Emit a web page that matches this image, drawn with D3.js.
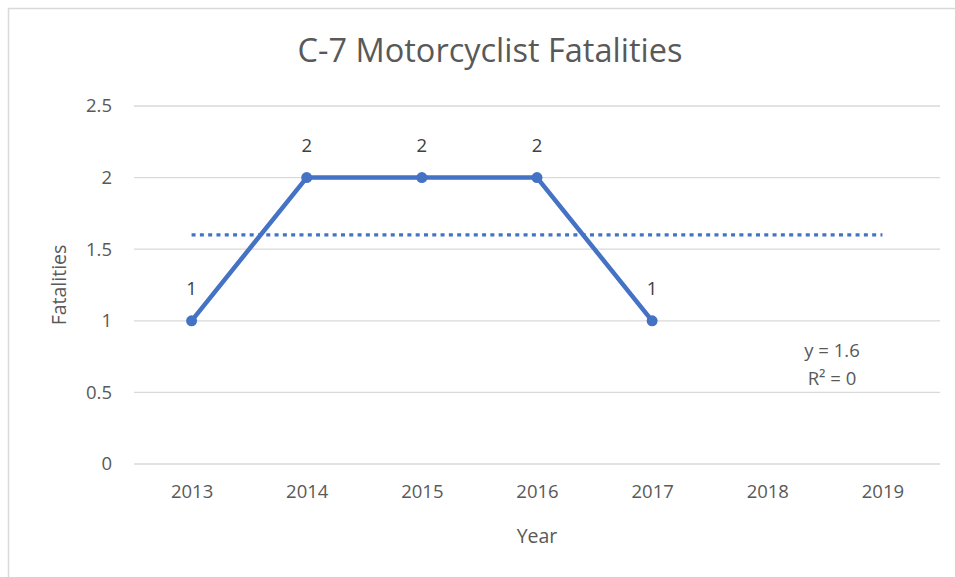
<!DOCTYPE html>
<html><head><meta charset="utf-8">
<script src="https://cdn.jsdelivr.net/npm/d3@7"></script>
<style>body{margin:0;background:#fff}svg{display:block}</style>
</head><body>
<svg id="chart" width="955" height="577"></svg>
<script>
const title = "C-7 Motorcyclist Fatalities";
const years = ["2013","2014","2015","2016","2017","2018","2019"];
const fatalities = [1,2,2,2,1];
const yTicks = [0,0.5,1,1.5,2,2.5];
const trendValue = 1.6;
const trendLabel = ["y = 1.6","R² = 0"];
const xTitle = "Year", yTitle = "Fatalities";

const font = "'Open Sans', sans-serif";
const svg = d3.select("#chart");
svg.append("rect").attr("x",8.5).attr("y",8.5).attr("width",1000).attr("height",1000)
  .attr("fill","#fff").attr("stroke","#d9d9d9").attr("stroke-width",1.5);

const x = d3.scalePoint().domain(years).range([134,940]).padding(0.5);
const y = d3.scaleLinear().domain([0,2.5]).range([464,106]);

// gridlines
svg.append("g").selectAll("line").data(yTicks).join("line")
  .attr("x1",134).attr("x2",940).attr("y1",d=>y(d)).attr("y2",d=>y(d))
  .attr("stroke","#d9d9d9").attr("stroke-width",1.3);

// y axis labels
const yAxis = d3.axisLeft(y).tickValues(yTicks).tickFormat(d3.format("")).tickSize(0).tickPadding(0);
const gy = svg.append("g").attr("transform","translate(112,0)").call(yAxis);
gy.select(".domain").remove();
gy.selectAll("text").attr("font-family",font).attr("font-size",18.5).attr("fill","#595959");

// x axis labels
const xAxis = d3.axisBottom(x).tickSize(0).tickPadding(0);
const gx = svg.append("g").attr("transform","translate(0,484)").call(xAxis);
gx.select(".domain").remove();
gx.selectAll("text").attr("font-family",font).attr("font-size",18.5).attr("fill","#595959").attr("dy","0.75em");

// trendline
svg.append("line")
  .attr("x1",x(years[0])).attr("x2",x(years[years.length-1]))
  .attr("y1",y(trendValue)).attr("y2",y(trendValue))
  .attr("stroke","#4472C4").attr("stroke-width",3.3).attr("stroke-dasharray","4,4.3");

// series line
const pts = fatalities.map((v,i)=>({x:years[i],v}));
svg.append("path").datum(pts)
  .attr("d",d3.line().x(d=>x(d.x)).y(d=>y(d.v)))
  .attr("fill","none").attr("stroke","#4472C4").attr("stroke-width",4.5)
  .attr("stroke-linejoin","round");
svg.append("g").selectAll("circle").data(pts).join("circle")
  .attr("cx",d=>x(d.x)).attr("cy",d=>y(d.v)).attr("r",5.5).attr("fill","#4472C4");

// data labels
svg.append("g").selectAll("text").data(pts).join("text")
  .attr("x",d=>x(d.x)).attr("y",d=>y(d.v)-26)
  .attr("text-anchor","middle").attr("font-family",font).attr("font-size",18.5).attr("fill","#404040")
  .text(d=>d.v);

// trend equation
svg.append("g").selectAll("text").data(trendLabel).join("text")
  .attr("x",832).attr("y",(d,i)=>357+i*28)
  .attr("text-anchor","middle").attr("font-family",font).attr("font-size",18.5).attr("fill","#595959")
  .text(d=>d);

// titles
svg.append("text").attr("x",490).attr("y",62).attr("text-anchor","middle")
  .attr("font-family",font).attr("font-size",32.5).attr("fill","#595959").text(title);
svg.append("text").attr("x",537).attr("y",543).attr("text-anchor","middle")
  .attr("font-family",font).attr("font-size",19.5).attr("fill","#595959").text(xTitle);
svg.append("text").attr("transform","translate(66,285) rotate(-90)").attr("text-anchor","middle")
  .attr("font-family",font).attr("font-size",19.5).attr("fill","#595959").text(yTitle);
</script>
</body></html>
